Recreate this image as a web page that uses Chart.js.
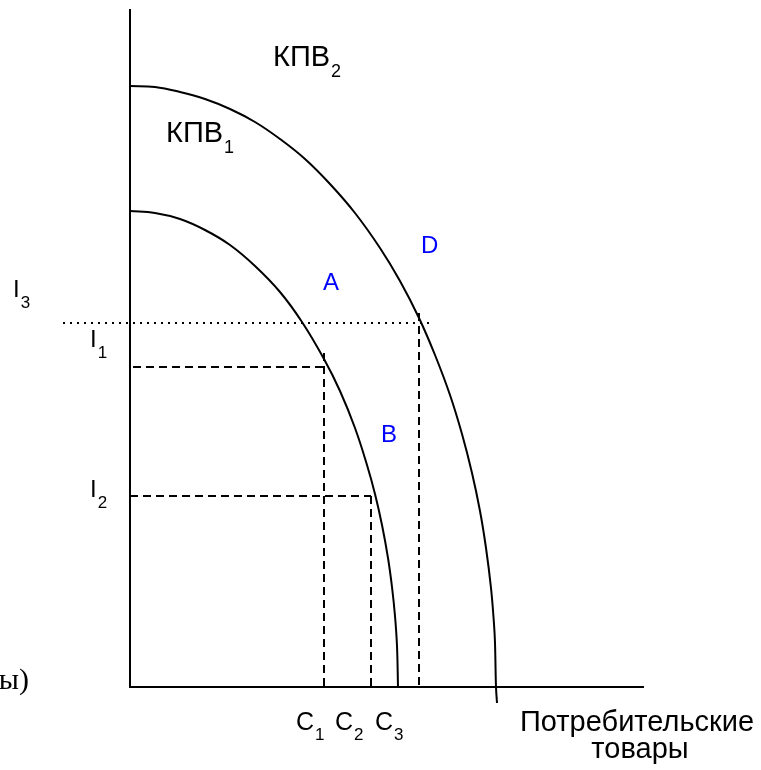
<!DOCTYPE html>
<html>
<head>
<meta charset="utf-8">
<script src="https://cdn.jsdelivr.net/npm/chart.js@4/dist/chart.umd.min.js"></script>
<style>
  html, body { margin: 0; padding: 0; background: #fff; }
  canvas { display: block; }
</style>
</head>
<body>
<canvas id="ppfChart" width="761" height="770"></canvas>
<script>
/*global Chart*/

//----------------------------------------------------------------
/* values */
//----------------------------------------------------------------
// КПВ2 (outer frontier)
var outerX = [0, 25, 50, 75, 100, 125, 150, 175, 200, 225, 250, 270, 289, 305, 320, 332, 342, 350, 356, 361, 364, 365, 366, 367];
var outerY = [601, 600, 595, 588, 578, 565, 548, 528, 503, 474, 439, 406, 369, 332, 292, 253, 214, 176, 139, 99, 63, 44, 0, -16];
// КПВ1 (inner frontier)
var innerX = [0, 25, 50, 75, 100, 125, 150, 172, 194, 210, 225, 237, 245, 252, 258, 262, 265, 267, 268];
var innerY = [476, 474, 468, 457, 442, 421, 395, 365, 328, 296, 259, 222, 193, 162, 129, 100, 71, 41, 0];

// investment levels I1, I2, I3 and where their guide lines start / end
var levelNames = ["1", "2", "3"];
var levelI = [320, 191, 364];
var levelFrom = [3, 0, -67];
var levelTo = [194, 241, 303];
// consumption drops C1, C2, C3 and the top of each vertical guide
var dropC = [194, 241, 289];
var dropTop = [334, 191, 374];

var xMax = 513;
var yMax = 677;

function pts(xs, ys) {
    var out = [];
    for (var i = 0; i < xs.length; i++) out.push({x: xs[i], y: ys[i]});
    return out;
}

function curve(xs, ys) {
    return {
        data: pts(xs, ys),
        borderColor: "#000",
        borderWidth: 2,
        pointRadius: 0,
        tension: 0.4,
        fill: false,
        clip: false
    };
}

function guide(x0, y0, x1, y1, dash) {
    return {
        data: [{x: x0, y: y0}, {x: x1, y: y1}],
        borderColor: "#000",
        borderWidth: 2,
        borderDash: dash,
        pointRadius: 0,
        tension: 0,
        fill: false,
        clip: false
    };
}

var datasets = [curve(outerX, outerY), curve(innerX, innerY)];
// I1, I2 dashed, I3 dotted
datasets.push(guide(levelFrom[0], levelI[0], levelTo[0], levelI[0], [8, 5]));
datasets.push(guide(levelFrom[1], levelI[1], levelTo[1], levelI[1], [8, 5]));
datasets.push(guide(levelFrom[2], levelI[2], levelTo[2], levelI[2], [2, 5]));
// vertical drops to C1, C2, C3
for (var k = 0; k < dropC.length; k++) {
    datasets.push(guide(dropC[k], dropTop[k], dropC[k], 0, [8, 5]));
}

//----------------------------------------------------------------
/* labels */
//----------------------------------------------------------------
var SANS = '"Liberation Sans", Arial, sans-serif';

function subText(ctx, main, sub, x, y, size, subSize, drop, color) {
    ctx.fillStyle = color || "#000";
    ctx.textAlign = "left";
    ctx.textBaseline = "alphabetic";
    ctx.font = size + "px " + SANS;
    ctx.fillText(main, x, y);
    var w = ctx.measureText(main).width;
    ctx.font = subSize + "px " + SANS;
    ctx.fillText(sub, x + w + 1, y + drop);
}

var labelPlugin = {
    id: "labels",
    afterDraw: function (chart) {
        var ctx = chart.ctx;
        var xs = chart.scales.x, ys = chart.scales.y;
        ctx.save();

        subText(ctx, "КПВ", "2", 273, 66, 29, 18, 11);
        subText(ctx, "КПВ", "1", 166, 142, 29, 18, 11);

        // I labels sit just left of / above their level line
        subText(ctx, "I", levelNames[2], 13, ys.getPixelForValue(levelI[2]) - 26, 24, 17, 11);
        subText(ctx, "I", levelNames[0], 90, ys.getPixelForValue(levelI[0]) - 20, 24, 17, 11);
        subText(ctx, "I", levelNames[1], 90, ys.getPixelForValue(levelI[1]) + 1, 24, 17, 11);

        // C labels under the axis
        var base = ys.getPixelForValue(0) + 43;
        subText(ctx, "C", levelNames[0], xs.getPixelForValue(dropC[0]) - 28, base, 25, 17, 10);
        subText(ctx, "C", levelNames[1], xs.getPixelForValue(dropC[1]) - 36, base, 25, 17, 10);
        subText(ctx, "C", levelNames[2], xs.getPixelForValue(dropC[2]) - 44, base, 25, 17, 10);

        ctx.fillStyle = "#000";
        ctx.textAlign = "center";
        ctx.font = "29px " + SANS;
        ctx.fillText("Потребительские", 637, 731);
        ctx.fillText("товары", 640, 758);

        ctx.fillStyle = "#0000ff";
        ctx.textAlign = "left";
        ctx.font = "24px " + SANS;
        ctx.fillText("A", 323, 290);
        ctx.fillText("D", 421, 253);
        ctx.fillText("B", 381, 442);

        ctx.fillStyle = "#000";
        ctx.textAlign = "right";
        ctx.font = '30px "Liberation Serif", "Times New Roman", serif';
        ctx.fillText("ы)", 29, 689);

        ctx.restore();
    }
};

//----------------------------------------------------------------
/* chart */
//----------------------------------------------------------------
var axisOpts = function (max) {
    return {
        type: "linear",
        min: 0,
        max: max,
        grid: {display: false, drawTicks: false},
        ticks: {display: false},
        border: {display: true, color: "#000", width: 2}
    };
};

var ctx = document.getElementById("ppfChart").getContext("2d");
new Chart(ctx, {
    type: "line",
    data: {datasets: datasets},
    options: {
        responsive: false,
        animation: false,
        layout: {padding: {left: 130, right: 118, top: 10, bottom: 83}},
        plugins: {legend: {display: false}, tooltip: {enabled: false}},
        scales: {x: axisOpts(xMax), y: axisOpts(yMax)}
    },
    plugins: [labelPlugin]
});
</script>
</body>
</html>
